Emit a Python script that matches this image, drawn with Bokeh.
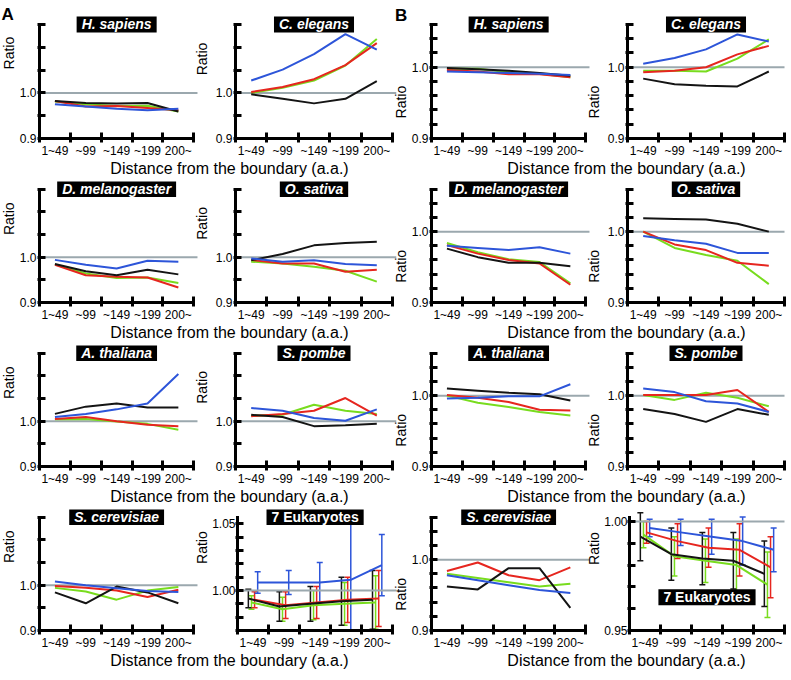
import math
from bokeh.plotting import figure
from bokeh.layouts import row, column
from bokeh.models import (Range1d, FixedTicker, PrintfTickFormatter, Label,
                          ColumnDataSource, Whisker, TeeHead)
from bokeh.core.properties import value
from bokeh.transform import dodge
from bokeh.embed import file_html
from bokeh.resources import INLINE

# ---------------- data ----------------
BINS = ["1~49", "~99", "~149", "~199", "200~"]
XLABEL = "Distance from the boundary (a.a.)"
YLABEL = "Ratio"
REF = 1.0

# Panel A
a_hsap_black = [0.982, 0.978, 0.977, 0.978, 0.959]
a_hsap_green = [0.981, 0.975, 0.971, 0.972, 0.959]
a_hsap_red = [0.982, 0.970, 0.971, 0.967, 0.962]
a_hsap_blue = [0.975, 0.970, 0.965, 0.962, 0.965]

a_cele_black = [0.997, 0.987, 0.977, 0.987, 1.026]
a_cele_green = [1.000, 1.011, 1.027, 1.060, 1.118]
a_cele_red = [1.002, 1.013, 1.030, 1.061, 1.109]
a_cele_blue = [1.027, 1.051, 1.085, 1.129, 1.095]

a_dmel_black = [0.985, 0.969, 0.960, 0.972, 0.962]
a_dmel_green = [0.984, 0.964, 0.954, 0.955, 0.943]
a_dmel_red = [0.983, 0.960, 0.957, 0.955, 0.933]
a_dmel_blue = [0.994, 0.983, 0.975, 0.992, 0.990]

a_osat_black = [0.993, 1.007, 1.026, 1.031, 1.034]
a_osat_green = [0.990, 0.986, 0.979, 0.970, 0.946]
a_osat_red = [0.994, 0.986, 0.986, 0.968, 0.972]
a_osat_blue = [0.997, 0.990, 0.993, 0.985, 0.982]

a_atha_black = [1.016, 1.032, 1.039, 1.030, 1.030]
a_atha_green = [1.004, 1.005, 0.999, 0.994, 0.981]
a_atha_red = [1.005, 1.009, 1.000, 0.992, 0.989]
a_atha_blue = [1.009, 1.016, 1.026, 1.039, 1.104]

a_spom_black = [1.014, 1.009, 0.989, 0.991, 0.994]
a_spom_green = [1.012, 1.014, 1.036, 1.023, 1.016]
a_spom_red = [1.011, 1.016, 1.023, 1.051, 1.012]
a_spom_blue = [1.029, 1.023, 1.007, 1.001, 1.026]

a_scer_black = [0.984, 0.960, 0.997, 0.984, 0.960]
a_scer_green = [0.994, 0.986, 0.968, 0.988, 0.996]
a_scer_red = [0.998, 0.994, 0.988, 0.974, 0.990]
a_scer_blue = [1.008, 1.000, 0.993, 0.987, 0.985]

a_euk_black = [0.994, 0.988, 0.990, 0.992, 0.993]
a_euk_green = [0.991, 0.986, 0.989, 0.990, 0.991]
a_euk_red = [0.993, 0.989, 0.991, 0.993, 0.994]
a_euk_blue = [1.006, 1.006, 1.006, 1.008, 1.019]
a_euk_black_err = [0.007, 0.011, 0.013, 0.018, 0.022]
a_euk_green_err = [0.005, 0.009, 0.011, 0.016, 0.020]
a_euk_red_err = [0.006, 0.010, 0.012, 0.017, 0.021]
a_euk_blue_err = [0.008, 0.009, 0.015, 0.046, 0.023]

# Panel B
b_hsap_black = [0.999, 0.997, 0.995, 0.992, 0.988]
b_hsap_green = [0.998, 0.998, 0.993, 0.991, 0.986]
b_hsap_red = [0.996, 0.994, 0.990, 0.990, 0.986]
b_hsap_blue = [0.994, 0.993, 0.992, 0.991, 0.989]

b_cele_black = [0.984, 0.976, 0.974, 0.973, 0.994]
b_cele_green = [0.995, 0.995, 0.994, 1.012, 1.039]
b_cele_red = [0.993, 0.995, 1.000, 1.018, 1.030]
b_cele_blue = [1.005, 1.013, 1.025, 1.046, 1.036]

b_dmel_black = [0.976, 0.964, 0.956, 0.956, 0.951]
b_dmel_green = [0.984, 0.971, 0.961, 0.957, 0.927]
b_dmel_red = [0.981, 0.969, 0.960, 0.955, 0.925]
b_dmel_blue = [0.980, 0.977, 0.974, 0.978, 0.969]

b_osat_black = [1.019, 1.018, 1.017, 1.011, 1.000]
b_osat_green = [1.000, 0.977, 0.967, 0.959, 0.926]
b_osat_red = [1.000, 0.982, 0.974, 0.956, 0.952]
b_osat_blue = [0.994, 0.988, 0.983, 0.970, 0.970]

b_atha_black = [1.010, 1.007, 1.004, 1.002, 0.993]
b_atha_green = [1.000, 0.990, 0.984, 0.977, 0.972]
b_atha_red = [1.001, 0.997, 0.991, 0.980, 0.979]
b_atha_blue = [0.996, 0.997, 0.999, 0.999, 1.016]

b_spom_black = [0.981, 0.974, 0.963, 0.981, 0.973]
b_spom_green = [1.001, 0.994, 1.004, 0.997, 0.985]
b_spom_red = [1.001, 1.001, 1.001, 1.008, 0.977]
b_spom_blue = [1.010, 1.005, 0.992, 0.989, 0.977]

b_scer_black = [0.962, 0.958, 0.988, 0.988, 0.932]
b_scer_green = [0.980, 0.974, 0.968, 0.962, 0.966]
b_scer_red = [0.984, 0.996, 0.978, 0.971, 0.989]
b_scer_blue = [0.978, 0.971, 0.964, 0.957, 0.953]

b_euk_black = [0.993, 0.985, 0.983, 0.982, 0.976]
b_euk_green = [0.994, 0.984, 0.982, 0.980, 0.971]
b_euk_red = [0.995, 0.991, 0.988, 0.987, 0.979]
b_euk_blue = [0.997, 0.995, 0.993, 0.991, 0.987]
b_euk_black_err = [0.011, 0.012, 0.012, 0.013, 0.015]
b_euk_green_err = [0.006, 0.009, 0.010, 0.012, 0.015]
b_euk_red_err = [0.005, 0.008, 0.009, 0.012, 0.014]
b_euk_blue_err = [0.004, 0.006, 0.008, 0.011, 0.010]

# ---------------- style / layout ----------------
FONT = "Liberation Sans"
COLORS = {"black": "#141414", "green": "#78dc1e", "red": "#e6261f", "blue": "#2d55d9"}
DRAW_ORDER = ["green", "red", "black", "blue"]
DODGE = {"black": -0.15, "green": -0.05, "red": 0.05, "blue": 0.15}
GRAY = "#9ba8ae"

F = 157.0          # x-axis length (px)
AY = 119.0         # y-axis length (px)
XB_PAD = 16        # bottom border (tick labels)
EXT = 16           # strip right of each x-axis that carries the next panel's "Ratio"

XC = [i + 0.5 for i in range(len(BINS))]
XB = [float(i) for i in range(len(BINS) + 1)]
NX = float(len(BINS))

A_STD = dict(yr=(0.9, 1.15), ymaj=[0.9, 1.0], ymin=[0.95, 1.05, 1.1, 1.15], yfmt="%.1f",
             ratio_top=36, standoff=1)
B_STD = dict(yr=(0.9, 1.06), ymaj=[0.9, 1.0], ymin=[0.92, 0.94, 0.96, 0.98, 1.02, 1.04, 1.06],
             yfmt="%.1f", ratio_top=81, standoff=1)
A_EUK = dict(yr=(0.97, 1.055), ymaj=[1.0, 1.05], ymin=[0.97, 0.98, 0.99, 1.01, 1.02, 1.03, 1.04],
             yfmt="%.2f", ratio_top=32, standoff=0)
B_EUK = dict(yr=(0.95, 1.002), ymaj=[0.95, 1.0], ymin=[0.96, 0.97, 0.98, 0.99], yfmt="%.2f",
             ratio_top=33, standoff=0)

# column geometry: (left border, right border); width = left + F + (EXT or right)
LEFTS = [20, 26, 20, 26]
COLS = [(LEFTS[0] + int(F) + EXT, LEFTS[0], 0), (LEFTS[1] + int(F) + EXT, LEFTS[1], 0),
        (LEFTS[2] + int(F) + EXT, LEFTS[2], 0), (LEFTS[3] + int(F) + 3, LEFTS[3], 3)]
RA_W = 16
TOP_PAD = [25, 8, 8, 8]
ROW_H = [int(tp + AY + XB_PAD) for tp in TOP_PAD]
LAB_H = 21
LETTER_BASE = 16   # px from top of first row


def ser(k, g, r, b):
    return {"black": k, "green": g, "red": r, "blue": b}


def blank_fig(w, h):
    p = figure(width=w, height=h, x_range=Range1d(0, w), y_range=Range1d(0, h), title=None,
               output_backend="svg", toolbar_location=None,
               x_axis_location=None, y_axis_location=None,
               min_border=0, min_border_left=0, min_border_right=0,
               min_border_top=0, min_border_bottom=0)
    p.outline_line_color = None
    p.grid.visible = False
    p.background_fill_color = "white"
    p.border_fill_color = "white"
    return p


def ratio_label(x, y):
    return Label(x=x, y=y, text=YLABEL, angle=math.pi / 2, text_align="center",
                 text_baseline="middle", text_font=FONT, text_font_size="14px", text_color="black")


def letter_label(x, y, t):
    return Label(x=x, y=y, text=t, text_align="left", text_baseline="alphabetic",
                 text_font=FONT, text_font_size="17px", text_font_style="bold", text_color="black")


def xlabel_fig(w, cx):
    p = blank_fig(w, LAB_H)
    src = ColumnDataSource(dict(x=[cx], y=[LAB_H - 7.5], t=[XLABEL]))
    p.text(x="x", y="y", text="t", source=src, text_align="center", text_baseline="middle",
           text_font=value(FONT), text_font_size=value("16px"), text_color="black")
    return p


def build_panel(title, series, errs, cfg, geom, r, italic, title_top):
    W, lb, rb = geom
    H = ROW_H[r]
    tp = TOP_PAD[r]
    lo, hi = cfg["yr"]
    sy = (hi - lo) / AY
    sx = NX / F
    frame_w = W - lb - rb
    p = figure(width=W, height=H, x_range=Range1d(0, frame_w * sx), y_range=Range1d(lo, hi + tp * sy),
               title=None, output_backend="svg", toolbar_location=None,
               min_border_left=lb, min_border_right=rb, min_border_top=0, min_border_bottom=XB_PAD)
    p.outline_line_color = None
    p.grid.visible = False
    p.background_fill_color = "white"
    p.border_fill_color = "white"

    p.segment(x0=[XB[0]], y0=[REF], x1=[XB[-1] + 0.12], y1=[REF], line_color=GRAY, line_width=2)

    for name in DRAW_ORDER:
        vals = series[name]
        c = COLORS[name]
        if errs is None:
            src = ColumnDataSource(dict(x=XC, y=vals))
            p.line("x", "y", source=src, line_color=c, line_width=2)
        else:
            e = errs[name]
            src = ColumnDataSource(dict(x=XC, y=vals,
                                        upper=[v + d for v, d in zip(vals, e)],
                                        lower=[v - d for v, d in zip(vals, e)]))
            off = DODGE[name]
            p.line(x=dodge("x", off), y="y", source=src, line_color=c, line_width=2)
            p.add_layout(Whisker(base=dodge("x", off), upper="upper", lower="lower", source=src,
                                 dimension="height", line_color=c, line_width=1.5,
                                 upper_head=TeeHead(size=6, line_color=c, line_width=1.5),
                                 lower_head=TeeHead(size=6, line_color=c, line_width=1.5)))

    xa = p.xaxis[0]
    xa.bounds = (XB[0], XB[-1])
    xa.ticker = FixedTicker(ticks=XC, minor_ticks=XB)
    xa.major_label_overrides = dict(zip(XC, BINS))
    xa.major_tick_in = 0
    xa.major_tick_out = 0
    xa.minor_tick_in = 6
    xa.minor_tick_out = 4
    xa.minor_tick_line_width = 3
    xa.minor_tick_line_color = "black"
    xa.axis_line_width = 3
    xa.axis_line_color = "black"
    xa.axis_line_cap = "square"
    xa.major_label_standoff = 1
    xa.axis_label_standoff = 0
    xa.major_label_text_font = FONT
    xa.major_label_text_font_size = "12px"
    xa.major_label_text_color = "black"

    ya = p.yaxis[0]
    ya.bounds = (lo, hi)
    ya.ticker = FixedTicker(ticks=cfg["ymaj"], minor_ticks=cfg["ymin"])
    ya.formatter = PrintfTickFormatter(format=cfg["yfmt"])
    ya.major_tick_in = 6
    ya.major_tick_out = 2
    ya.minor_tick_in = 6
    ya.minor_tick_out = 2
    ya.major_tick_line_width = 3
    ya.minor_tick_line_width = 3
    ya.major_tick_line_color = "black"
    ya.minor_tick_line_color = "black"
    ya.axis_line_width = 3
    ya.axis_line_color = "black"
    ya.axis_line_cap = "square"
    ya.major_label_standoff = cfg["standoff"]
    ya.major_label_text_font = FONT
    ya.major_label_text_font_size = "12px"
    ya.major_label_text_color = "black"

    p.add_layout(Label(x=NX / 2, y=hi - title_top * sy, text=title,
                       text_align="center", text_baseline="middle", text_font=FONT,
                       text_font_size="14px", text_font_style="bold italic" if italic else "bold",
                       text_color="white", background_fill_color="black", padding=(5, 0)))

    # converters: px right of x-axis start, px below y-axis top -> data
    conv = dict(x=lambda px: px * sx, y=lambda px: hi - px * sy)
    return p, conv


PANELS = [
    [("H. sapiens", ser(a_hsap_black, a_hsap_green, a_hsap_red, a_hsap_blue), None, A_STD),
     ("C. elegans", ser(a_cele_black, a_cele_green, a_cele_red, a_cele_blue), None, A_STD),
     ("H. sapiens", ser(b_hsap_black, b_hsap_green, b_hsap_red, b_hsap_blue), None, B_STD),
     ("C. elegans", ser(b_cele_black, b_cele_green, b_cele_red, b_cele_blue), None, B_STD)],
    [("D. melanogaster", ser(a_dmel_black, a_dmel_green, a_dmel_red, a_dmel_blue), None, A_STD),
     ("O. sativa", ser(a_osat_black, a_osat_green, a_osat_red, a_osat_blue), None, A_STD),
     ("D. melanogaster", ser(b_dmel_black, b_dmel_green, b_dmel_red, b_dmel_blue), None, B_STD),
     ("O. sativa", ser(b_osat_black, b_osat_green, b_osat_red, b_osat_blue), None, B_STD)],
    [("A. thaliana", ser(a_atha_black, a_atha_green, a_atha_red, a_atha_blue), None, A_STD),
     ("S. pombe", ser(a_spom_black, a_spom_green, a_spom_red, a_spom_blue), None, A_STD),
     ("A. thaliana", ser(b_atha_black, b_atha_green, b_atha_red, b_atha_blue), None, B_STD),
     ("S. pombe", ser(b_spom_black, b_spom_green, b_spom_red, b_spom_blue), None, B_STD)],
    [("S. cerevisiae", ser(a_scer_black, a_scer_green, a_scer_red, a_scer_blue), None, A_STD),
     ("7 Eukaryotes", ser(a_euk_black, a_euk_green, a_euk_red, a_euk_blue),
      ser(a_euk_black_err, a_euk_green_err, a_euk_red_err, a_euk_blue_err), A_EUK),
     ("S. cerevisiae", ser(b_scer_black, b_scer_green, b_scer_red, b_scer_blue), None, B_STD),
     ("7 Eukaryotes", ser(b_euk_black, b_euk_green, b_euk_red, b_euk_blue),
      ser(b_euk_black_err, b_euk_green_err, b_euk_red_err, b_euk_blue_err), B_EUK)],
]

colA, colB = [], []
labA_w = RA_W + COLS[0][0] + COLS[1][0]
labB_w = COLS[2][0] + COLS[3][0]
# x-label centres (slightly right of the centre of the two axes, as in the original)
a_axes_mid = (RA_W + LEFTS[0] + RA_W + COLS[0][0] + LEFTS[1] + F) / 2.0
b_axes_mid = (LEFTS[2] + COLS[2][0] + LEFTS[3] + F) / 2.0

for r, panels in enumerate(PANELS):
    figs, convs = [], []
    for c, (title, series, errs, cfg) in enumerate(panels):
        is_euk = errs is not None
        title_top = 84 if (is_euk and c == 3) else 0
        p, cv = build_panel(title, series, errs, cfg, COLS[c], r, not is_euk, title_top)
        figs.append(p)
        convs.append(cv)

    # left-most strip holding the Ratio label of the first panel (and letter A)
    ra = blank_fig(RA_W, ROW_H[r])
    ra.add_layout(ratio_label(RA_W / 2.0, ROW_H[r] - (TOP_PAD[r] + panels[0][3]["ratio_top"])))
    if r == 0:
        ra.add_layout(letter_label(1.0, ROW_H[r] - LETTER_BASE, "A"))

    # Ratio labels of panels 2..4 live in the strip right of the preceding panel's axis
    for c in (1, 2, 3):
        host, cv = figs[c - 1], convs[c - 1]
        host.add_layout(ratio_label(cv["x"](F + EXT / 2.0), cv["y"](panels[c][3]["ratio_top"])))
    if r == 0:
        figs[1].add_layout(letter_label(convs[1]["x"](F + 2.5),
                                        convs[1]["y"](LETTER_BASE - TOP_PAD[0]), "B"))

    colA.append(row(ra, figs[0], figs[1], spacing=0))
    colB.append(row(figs[2], figs[3], spacing=0))
    colA.append(xlabel_fig(labA_w, a_axes_mid + 15))
    colB.append(xlabel_fig(labB_w, b_axes_mid + 20))

layout = row(column(*colA, spacing=0), column(*colB, spacing=0), spacing=0)

open("out.html", "w").write(file_html(layout, INLINE, title="Ratio by distance from the boundary"))
